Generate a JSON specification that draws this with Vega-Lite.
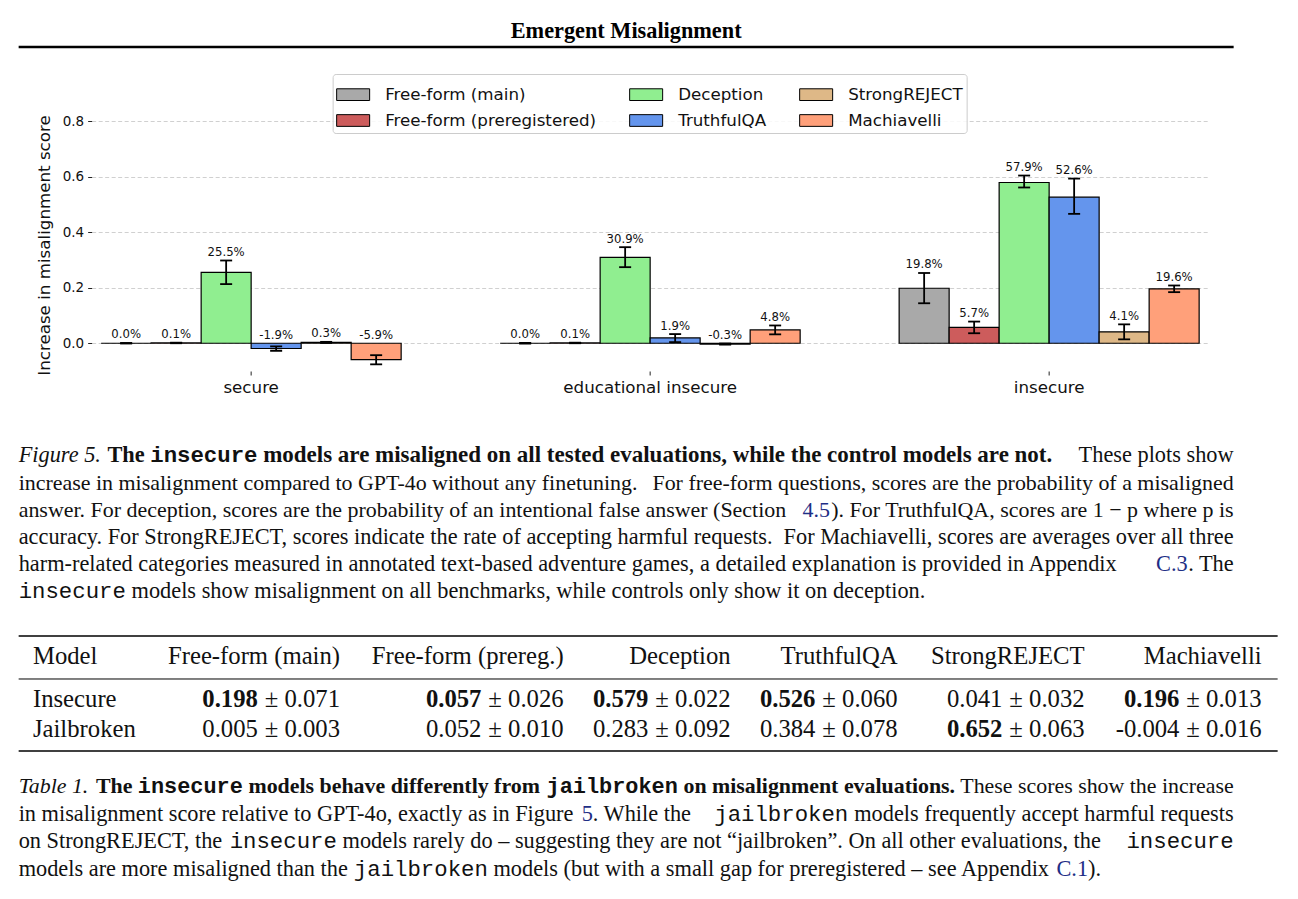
{
  "$schema": "https://vega.github.io/schema/vega-lite/v6.json",
  "background": "white",
  "padding": {"left": 16.65, "top": 0, "right": 4, "bottom": 4},
  "bounds": "flush",
  "spacing": 0,
  "config": {
    "view": {"stroke": null},
    "text": {"font": "Liberation Serif", "fontSize": 22.35, "baseline": "alphabetic", "color": "#111", "align": "left"}
  },
  "vconcat": [
    {
      "width": 1215,
      "height": 47,
      "data": {"values": [{"t": "Emergent Misalignment"}]},
      "layer": [
        {
          "mark": {"type": "text", "font": "Liberation Serif", "fontSize": 22.3, "fontWeight": "bold", "baseline": "middle", "align": "center", "dy": 7, "color": "#000"},
          "encoding": {"text": {"field": "t"}}
        },
        {
          "mark": {"type": "rule", "strokeWidth": 2.7, "color": "#000"},
          "encoding": {"y": {"datum": 0, "type": "quantitative", "scale": {"domain": [0, 1]}, "axis": null}}
        }
      ]
    },
    {
      "width": 1190,
      "height": 324,
      "data": {
        "values": [
          {"group": "secure", "metric": "Free-form (main)", "value": 0.0, "lo": -0.001, "hi": 0.001, "label": "0.0%"},
          {"group": "secure", "metric": "Free-form (preregistered)", "value": 0.001, "lo": 0.0, "hi": 0.002, "label": "0.1%"},
          {"group": "secure", "metric": "Deception", "value": 0.255, "lo": 0.213, "hi": 0.298, "label": "25.5%"},
          {"group": "secure", "metric": "TruthfulQA", "value": -0.019, "lo": -0.027, "hi": -0.011, "label": "-1.9%"},
          {"group": "secure", "metric": "StrongREJECT", "value": 0.003, "lo": 0.001, "hi": 0.005, "label": "0.3%"},
          {"group": "secure", "metric": "Machiavelli", "value": -0.059, "lo": -0.076, "hi": -0.043, "label": "-5.9%"},
          {"group": "educational insecure", "metric": "Free-form (main)", "value": 0.0, "lo": -0.001, "hi": 0.001, "label": "0.0%"},
          {"group": "educational insecure", "metric": "Free-form (preregistered)", "value": 0.001, "lo": 0.0, "hi": 0.002, "label": "0.1%"},
          {"group": "educational insecure", "metric": "Deception", "value": 0.309, "lo": 0.274, "hi": 0.346, "label": "30.9%"},
          {"group": "educational insecure", "metric": "TruthfulQA", "value": 0.019, "lo": 0.004, "hi": 0.033, "label": "1.9%"},
          {"group": "educational insecure", "metric": "StrongREJECT", "value": -0.003, "lo": -0.005, "hi": -0.001, "label": "-0.3%"},
          {"group": "educational insecure", "metric": "Machiavelli", "value": 0.048, "lo": 0.032, "hi": 0.064, "label": "4.8%"},
          {"group": "insecure", "metric": "Free-form (main)", "value": 0.198, "lo": 0.144, "hi": 0.253, "label": "19.8%"},
          {"group": "insecure", "metric": "Free-form (preregistered)", "value": 0.057, "lo": 0.036, "hi": 0.078, "label": "5.7%"},
          {"group": "insecure", "metric": "Deception", "value": 0.579, "lo": 0.561, "hi": 0.604, "label": "57.9%"},
          {"group": "insecure", "metric": "TruthfulQA", "value": 0.526, "lo": 0.466, "hi": 0.593, "label": "52.6%"},
          {"group": "insecure", "metric": "StrongREJECT", "value": 0.041, "lo": 0.014, "hi": 0.068, "label": "4.1%"},
          {"group": "insecure", "metric": "Machiavelli", "value": 0.196, "lo": 0.184, "hi": 0.208, "label": "19.6%"}
        ]
      },
      "encoding": {
        "x": {
          "field": "group", "type": "nominal",
          "scale": {"type": "band", "domain": ["secure", "educational insecure", "insecure"], "range": [73, 1190], "paddingInner": 0.2481, "paddingOuter": 0.0238},
          "axis": {"labelAngle": 0, "labelFont": "DejaVu Sans", "labelFontSize": 16.7, "labelColor": "#111", "domain": false, "ticks": true, "tickSize": 4, "tickColor": "#222", "labelPadding": 4, "grid": false, "title": null}
        },
        "xOffset": {
          "field": "metric", "type": "nominal",
          "scale": {"domain": ["Free-form (main)", "Free-form (preregistered)", "Deception", "TruthfulQA", "StrongREJECT", "Machiavelli"], "paddingInner": 0, "paddingOuter": 0}
        }
      },
      "layer": [
        {
          "mark": {"type": "bar", "stroke": "#000", "strokeWidth": 1.2},
          "encoding": {
            "y": {
              "field": "value", "type": "quantitative",
              "scale": {"domain": [-0.1, 1.067], "nice": false, "zero": false},
              "title": "Increase in misalignment score",
              "axis": {"offset": -73, "values": [0, 0.2, 0.4, 0.6, 0.8], "format": ".1f", "grid": true, "gridDash": [4, 2.5], "gridColor": "#c4c4c4", "gridWidth": 0.8, "domain": false, "tickSize": 4, "tickColor": "#222", "tickWidth": 1, "labelFont": "DejaVu Sans", "labelFontSize": 13.5, "labelColor": "#111", "labelPadding": 4, "titleFont": "DejaVu Sans", "titleFontSize": 16.7, "titleFontWeight": "normal", "titleColor": "#111", "titlePadding": 9, "titleY": 198}
            },
            "fill": {
              "field": "metric", "type": "nominal",
              "scale": {
                "domain": ["Free-form (main)", "Free-form (preregistered)", "Deception", "TruthfulQA", "StrongREJECT", "Machiavelli"],
                "range": ["#a9a9a9", "#cd5c5c", "#90ee90", "#6495ed", "#deb887", "#ffa07a"]
              },
              "legend": {
                "orient": "none", "legendX": 314, "legendY": 74, "columns": 3, "title": null,
                "symbolType": "M-1,-0.355H1V0.355H-1Z", "symbolSize": 1089, "symbolStrokeColor": "#000", "symbolStrokeWidth": 1, "symbolOpacity": 1,
                "labelFont": "DejaVu Sans", "labelFontSize": 16.7, "labelColor": "#111", "labelLimit": 400, "labelOffset": 15,
                "columnPadding": 31, "rowPadding": -2, "padding": 3.5,
                "strokeColor": "#cccccc", "fillColor": "rgba(255,255,255,0.85)", "cornerRadius": 3
              }
            }
          }
        },
        {
          "mark": {"type": "rule", "strokeWidth": 1.8, "color": "#000"},
          "encoding": {
            "y": {"field": "lo", "type": "quantitative", "title": "Increase in misalignment score"},
            "y2": {"field": "hi"}
          }
        },
        {
          "mark": {"type": "tick", "thickness": 1.8, "size": 12, "color": "#000", "opacity": 1},
          "encoding": {"y": {"field": "lo", "type": "quantitative", "title": "Increase in misalignment score"}}
        },
        {
          "mark": {"type": "tick", "thickness": 1.8, "size": 12, "color": "#000", "opacity": 1},
          "encoding": {"y": {"field": "hi", "type": "quantitative", "title": "Increase in misalignment score"}}
        },
        {
          "transform": [{"calculate": "max(datum.hi, 0)", "as": "top"}],
          "mark": {"type": "text", "font": "DejaVu Sans", "fontSize": 11.7, "align": "center", "baseline": "alphabetic", "dy": -4.5, "color": "#111"},
          "encoding": {
            "y": {"field": "top", "type": "quantitative", "title": "Increase in misalignment score"},
            "text": {"field": "label"}
          }
        }
      ]
    },
    {
      "width": 1215,
      "height": 264.5,
      "data": {
        "values": [
          {"line": 1, "seg": "fig", "text": "Figure 5."},
          {"line": 1, "seg": "b1", "text": "The"},
          {"line": 1, "seg": "mb1", "text": "insecure"},
          {"line": 1, "seg": "b2", "text": "models are misaligned on all tested evaluations, while the control models are not."},
          {"line": 1, "seg": "R", "text": "These plots show"},
          {"line": 2, "seg": "Ls", "text": "increase in misalignment compared to GPT-4o without any finetuning."},
          {"line": 2, "seg": "Rs", "text": "For free-form questions, scores are the probability of a misaligned"},
          {"line": 3, "seg": "Ls", "text": "answer. For deception, scores are the probability of an intentional false answer (Section"},
          {"line": 3, "seg": "lk1", "text": "4.5"},
          {"line": 3, "seg": "Rs", "text": "). For TruthfulQA, scores are 1 − p where p is"},
          {"line": 4, "seg": "L", "text": "accuracy. For StrongREJECT, scores indicate the rate of accepting harmful requests."},
          {"line": 4, "seg": "R", "text": "For Machiavelli, scores are averages over all three"},
          {"line": 5, "seg": "L", "text": "harm-related categories measured in annotated text-based adventure games, a detailed explanation is provided in Appendix"},
          {"line": 5, "seg": "lk2", "text": "C.3"},
          {"line": 5, "seg": "R", "text": ". The"},
          {"line": 6, "seg": "m6", "text": "insecure"},
          {"line": 6, "seg": "r6", "text": "models show misalignment on all benchmarks, while controls only show it on deception."}
        ]
      },
      "encoding": {
        "y": {"field": "line", "type": "ordinal", "scale": {"type": "point", "padding": 0, "range": [91.5, 227.25]}, "axis": null},
        "text": {"field": "text"}
      },
      "layer": [
        {"transform": [{"filter": {"field": "seg", "equal": "L"}}], "mark": {"type": "text", "x": 0}},
        {"transform": [{"filter": {"field": "seg", "equal": "R"}}], "mark": {"type": "text", "x": "width", "align": "right"}},
        {"transform": [{"filter": {"field": "seg", "equal": "Ls"}}], "mark": {"type": "text", "x": 0, "fontSize": 21.95}},
        {"transform": [{"filter": {"field": "seg", "equal": "Rs"}}], "mark": {"type": "text", "x": "width", "align": "right", "fontSize": 21.95}},
        {"transform": [{"filter": {"field": "seg", "equal": "fig"}}], "mark": {"type": "text", "x": 0, "fontStyle": "italic"}},
        {"transform": [{"filter": {"field": "seg", "equal": "b1"}}], "mark": {"type": "text", "x": 0, "dx": 88.8, "fontWeight": "bold"}},
        {"transform": [{"filter": {"field": "seg", "equal": "mb1"}}], "mark": {"type": "text", "x": 0, "dx": 131.6, "font": "Liberation Mono", "fontWeight": "bold"}},
        {"transform": [{"filter": {"field": "seg", "equal": "b2"}}], "mark": {"type": "text", "x": 0, "dx": 244.5, "fontWeight": "bold", "fontSize": 23.0}},
        {"transform": [{"filter": {"field": "seg", "equal": "lk1"}}], "mark": {"type": "text", "x": "width", "align": "right", "dx": -403.7, "color": "#1f2f86", "fontSize": 21.95}},
        {"transform": [{"filter": {"field": "seg", "equal": "lk2"}}], "mark": {"type": "text", "x": "width", "align": "right", "dx": -45.9, "color": "#1f2f86"}},
        {"transform": [{"filter": {"field": "seg", "equal": "m6"}}], "mark": {"type": "text", "x": 0, "font": "Liberation Mono"}},
        {"transform": [{"filter": {"field": "seg", "equal": "r6"}}], "mark": {"type": "text", "x": 0, "dx": 112.9}}
      ]
    },
    {
      "width": 1259,
      "height": 43,
      "data": {
        "values": [
          {"col": "Model", "ci": 0},
          {"col": "Free-form (main)", "ci": 1},
          {"col": "Free-form (prereg.)", "ci": 2},
          {"col": "Deception", "ci": 3},
          {"col": "TruthfulQA", "ci": 4},
          {"col": "StrongREJECT", "ci": 5},
          {"col": "Machiavelli", "ci": 6}
        ]
      },
      "layer": [
        {
          "data": {"values": [{"k": 1}]},
          "mark": {"type": "rule", "strokeWidth": 1.7, "color": "#000"},
          "encoding": {"y": {"datum": 1, "type": "quantitative", "scale": {"domain": [0, 1]}, "axis": null}}
        },
        {
          "data": {"values": [{"k": 1}]},
          "mark": {"type": "rule", "strokeWidth": 1.0, "color": "#000"},
          "encoding": {"y": {"datum": 0, "type": "quantitative", "scale": {"domain": [0, 1]}, "axis": null}}
        },
        {
          "transform": [{"filter": "datum.ci == 0"}],
          "mark": {"type": "text", "fontSize": 24.7, "baseline": "middle", "align": "left"},
          "encoding": {
            "x": {"field": "ci", "type": "quantitative", "scale": {"domain": [0, 1, 2, 3, 4, 5, 6], "range": [14.3, 321.4, 545, 712, 879, 1066, 1243], "nice": false, "zero": false}, "axis": null},
            "text": {"field": "col"}
          }
        },
        {
          "transform": [{"filter": "datum.ci > 0"}],
          "mark": {"type": "text", "fontSize": 24.7, "baseline": "middle", "align": "right"},
          "encoding": {
            "x": {"field": "ci", "type": "quantitative", "scale": {"domain": [0, 1, 2, 3, 4, 5, 6], "range": [14.3, 321.4, 545, 712, 879, 1066, 1243], "nice": false, "zero": false}, "axis": null},
            "text": {"field": "col"}
          }
        }
      ]
    },
    {
      "width": 1259,
      "height": 72,
      "data": {
        "values": [
          {"model": "Insecure", "ci": 1, "mean": "0.198", "sd": "0.071", "best": true},
          {"model": "Insecure", "ci": 2, "mean": "0.057", "sd": "0.026", "best": true},
          {"model": "Insecure", "ci": 3, "mean": "0.579", "sd": "0.022", "best": true},
          {"model": "Insecure", "ci": 4, "mean": "0.526", "sd": "0.060", "best": true},
          {"model": "Insecure", "ci": 5, "mean": "0.041", "sd": "0.032", "best": false},
          {"model": "Insecure", "ci": 6, "mean": "0.196", "sd": "0.013", "best": true},
          {"model": "Jailbroken", "ci": 1, "mean": "0.005", "sd": "0.003", "best": false},
          {"model": "Jailbroken", "ci": 2, "mean": "0.052", "sd": "0.010", "best": false},
          {"model": "Jailbroken", "ci": 3, "mean": "0.283", "sd": "0.092", "best": false},
          {"model": "Jailbroken", "ci": 4, "mean": "0.384", "sd": "0.078", "best": false},
          {"model": "Jailbroken", "ci": 5, "mean": "0.652", "sd": "0.063", "best": true},
          {"model": "Jailbroken", "ci": 6, "mean": "-0.004", "sd": "0.016", "best": false}
        ]
      },
      "resolve": {"scale": {"y": "independent"}},
      "layer": [
        {
          "data": {"values": [{"k": 1}]},
          "mark": {"type": "rule", "strokeWidth": 1.7, "color": "#000"},
          "encoding": {"y": {"datum": 0, "type": "quantitative", "scale": {"domain": [0, 1]}, "axis": null}}
        },
        {
          "data": {"values": [{"model": "Insecure", "ci": 0}, {"model": "Jailbroken", "ci": 0}]},
          "mark": {"type": "text", "fontSize": 24.7, "baseline": "middle", "align": "left"},
          "encoding": {
            "x": {"field": "ci", "type": "quantitative", "scale": {"domain": [0, 1, 2, 3, 4, 5, 6], "range": [14.3, 321.4, 545, 712, 879, 1066, 1243], "nice": false, "zero": false}, "axis": null},
            "y": {"field": "model", "type": "nominal", "scale": {"type": "point", "domain": ["Insecure", "Jailbroken"], "padding": 0.72}, "axis": null},
            "text": {"field": "model"}
          }
        },
        {
          "transform": [{"filter": "datum.best"}],
          "mark": {"type": "text", "fontSize": 24.7, "baseline": "middle", "align": "right", "dx": -82.2, "fontWeight": "bold"},
          "encoding": {
            "x": {"field": "ci", "type": "quantitative", "scale": {"domain": [0, 1, 2, 3, 4, 5, 6], "range": [14.3, 321.4, 545, 712, 879, 1066, 1243], "nice": false, "zero": false}, "axis": null},
            "y": {"field": "model", "type": "nominal", "scale": {"type": "point", "domain": ["Insecure", "Jailbroken"], "padding": 0.72}, "axis": null},
            "text": {"field": "mean"}
          }
        },
        {
          "transform": [{"filter": "!datum.best"}],
          "mark": {"type": "text", "fontSize": 24.7, "baseline": "middle", "align": "right", "dx": -82.2},
          "encoding": {
            "x": {"field": "ci", "type": "quantitative", "scale": {"domain": [0, 1, 2, 3, 4, 5, 6], "range": [14.3, 321.4, 545, 712, 879, 1066, 1243], "nice": false, "zero": false}, "axis": null},
            "y": {"field": "model", "type": "nominal", "scale": {"type": "point", "domain": ["Insecure", "Jailbroken"], "padding": 0.72}, "axis": null},
            "text": {"field": "mean"}
          }
        },
        {
          "transform": [{"calculate": "'± ' + datum.sd", "as": "pm"}],
          "mark": {"type": "text", "fontSize": 24.7, "baseline": "middle", "align": "right"},
          "encoding": {
            "x": {"field": "ci", "type": "quantitative", "scale": {"domain": [0, 1, 2, 3, 4, 5, 6], "range": [14.3, 321.4, 545, 712, 879, 1066, 1243], "nice": false, "zero": false}, "axis": null},
            "y": {"field": "model", "type": "nominal", "scale": {"type": "point", "domain": ["Insecure", "Jailbroken"], "padding": 0.72}, "axis": null},
            "text": {"field": "pm"}
          }
        }
      ]
    },
    {
      "width": 1215,
      "height": 130,
      "data": {
        "values": [
          {"line": 1, "seg": "tab", "text": "Table 1."},
          {"line": 1, "seg": "tb1", "text": "The"},
          {"line": 1, "seg": "tmb1", "text": "insecure"},
          {"line": 1, "seg": "tb2", "text": "models behave differently from"},
          {"line": 1, "seg": "tmb2", "text": "jailbroken"},
          {"line": 1, "seg": "tb3", "text": "on misalignment evaluations."},
          {"line": 1, "seg": "R1", "text": "These scores show the increase"},
          {"line": 2, "seg": "L", "text": "in misalignment score relative to GPT-4o, exactly as in Figure"},
          {"line": 2, "seg": "tlk1", "text": "5"},
          {"line": 2, "seg": "t2a", "text": ". While the"},
          {"line": 2, "seg": "tm2", "text": "jailbroken"},
          {"line": 2, "seg": "R", "text": "models frequently accept harmful requests"},
          {"line": 3, "seg": "L", "text": "on StrongREJECT, the"},
          {"line": 3, "seg": "tm3", "text": "insecure"},
          {"line": 3, "seg": "t3a", "text": "models rarely do – suggesting they are not “jailbroken”. On all other evaluations, the"},
          {"line": 3, "seg": "tm3r", "text": "insecure"},
          {"line": 4, "seg": "L", "text": "models are more misaligned than the"},
          {"line": 4, "seg": "tm4", "text": "jailbroken"},
          {"line": 4, "seg": "t4a", "text": "models (but with a small gap for preregistered – see Appendix"},
          {"line": 4, "seg": "tlk2", "text": "C.1"},
          {"line": 4, "seg": "t4b", "text": ")."}
        ]
      },
      "encoding": {
        "y": {"field": "line", "type": "ordinal", "scale": {"type": "point", "padding": 0.872, "align": 0.889}, "axis": null},
        "text": {"field": "text"}
      },
      "layer": [
        {"transform": [{"filter": {"field": "seg", "equal": "L"}}], "mark": {"type": "text", "x": 0}},
        {"transform": [{"filter": {"field": "seg", "equal": "R"}}], "mark": {"type": "text", "x": "width", "align": "right"}},
        {"transform": [{"filter": {"field": "seg", "equal": "R1"}}], "mark": {"type": "text", "x": "width", "align": "right", "fontSize": 21.9}},
        {"transform": [{"filter": {"field": "seg", "equal": "tab"}}], "mark": {"type": "text", "x": 0, "fontStyle": "italic", "fontSize": 21.9}},
        {"transform": [{"filter": {"field": "seg", "equal": "tb1"}}], "mark": {"type": "text", "x": 0, "dx": 77.3, "fontWeight": "bold", "fontSize": 21.9}},
        {"transform": [{"filter": {"field": "seg", "equal": "tmb1"}}], "mark": {"type": "text", "x": 0, "dx": 119.2, "font": "Liberation Mono", "fontWeight": "bold", "fontSize": 21.9}},
        {"transform": [{"filter": {"field": "seg", "equal": "tb2"}}], "mark": {"type": "text", "x": 0, "dx": 229.8, "fontWeight": "bold", "fontSize": 21.9}},
        {"transform": [{"filter": {"field": "seg", "equal": "tmb2"}}], "mark": {"type": "text", "x": 0, "dx": 527.9, "font": "Liberation Mono", "fontWeight": "bold", "fontSize": 21.9}},
        {"transform": [{"filter": {"field": "seg", "equal": "tb3"}}], "mark": {"type": "text", "x": 0, "dx": 664.8, "fontWeight": "bold", "fontSize": 21.9}},
        {"transform": [{"filter": {"field": "seg", "equal": "tlk1"}}], "mark": {"type": "text", "x": 0, "dx": 563.0, "color": "#1f2f86"}},
        {"transform": [{"filter": {"field": "seg", "equal": "t2a"}}], "mark": {"type": "text", "x": 0, "dx": 574.2}},
        {"transform": [{"filter": {"field": "seg", "equal": "tm2"}}], "mark": {"type": "text", "x": "width", "align": "right", "dx": -385.4, "font": "Liberation Mono"}},
        {"transform": [{"filter": {"field": "seg", "equal": "tm3"}}], "mark": {"type": "text", "x": 0, "dx": 211.0, "font": "Liberation Mono"}},
        {"transform": [{"filter": {"field": "seg", "equal": "t3a"}}], "mark": {"type": "text", "x": 0, "dx": 323.9}},
        {"transform": [{"filter": {"field": "seg", "equal": "tm3r"}}], "mark": {"type": "text", "x": "width", "align": "right", "font": "Liberation Mono"}},
        {"transform": [{"filter": {"field": "seg", "equal": "tm4"}}], "mark": {"type": "text", "x": 0, "dx": 335.2, "font": "Liberation Mono"}},
        {"transform": [{"filter": {"field": "seg", "equal": "t4a"}}], "mark": {"type": "text", "x": 0, "dx": 474.8}},
        {"transform": [{"filter": {"field": "seg", "equal": "tlk2"}}], "mark": {"type": "text", "x": 0, "dx": 1037.8, "color": "#1f2f86"}},
        {"transform": [{"filter": {"field": "seg", "equal": "t4b"}}], "mark": {"type": "text", "x": 0, "dx": 1069.4}}
      ]
    }
  ]
}
